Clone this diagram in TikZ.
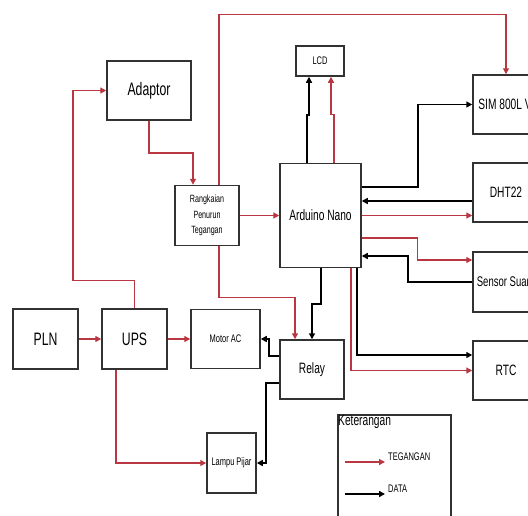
\documentclass[tikz,border=0pt]{standalone}
\usepackage{fontspec}
\setmainfont{Liberation Sans}[FakeStretch=0.68]
\usetikzlibrary{arrows.meta}
\definecolor{tegred}{RGB}{185,55,65}
\definecolor{boxgray}{RGB}{50,50,50}

\begin{document}
\begin{tikzpicture}[x=1pt,y=-1pt,>={Triangle[length=6pt,width=6pt]},
  blok/.style={draw=boxgray,line width=1.5pt,inner sep=0pt,align=center},
  besar/.style={font=\fontsize{18}{20}\selectfont},
  sedang/.style={font=\fontsize{15}{17}\selectfont},
  kecil/.style={font=\fontsize{11}{13}\selectfont},
  teg/.style={->,draw=tegred,line width=1.3pt},
  dat/.style={->,draw=black,line width=1.6pt}]
  \useasboundingbox (0,0) rectangle (528,515);
  \clip (0,0) rectangle (528,515);
  \node[blok,besar,minimum width=65,minimum height=60] (PLN) at (45.5,339) {PLN};
  \node[blok,besar,minimum width=65,minimum height=60] (UPS) at (134.5,339) {UPS};
  \node[blok,besar,minimum width=84,minimum height=59] (Adaptor) at (149,90.5) {Adaptor};
  \node[blok,minimum width=64,minimum height=60,font=\fontsize{10.5}{15.5}\selectfont] (Rang) at (207,215.5) {Rangkaian\\Penurun\\Tegangan};
  \node[blok,kecil,minimum width=69,minimum height=59] (Motor) at (225.5,339) {Motor AC};
  \node[blok,kecil,minimum width=49,minimum height=60] (Lampu) at (231.5,463) {Lampu Pijar};
  \node[blok,kecil,minimum width=48,minimum height=30] (LCD) at (320,61) {LCD};
  \node[blok,sedang,minimum width=81,minimum height=104] (Ard) at (320.5,215.5) {Arduino Nano};
  \node[blok,sedang,minimum width=64,minimum height=59] (Relay) at (312,369.5) {Relay};
  \node[blok,sedang,minimum width=66,minimum height=59] (SIM) at (506,104.5) {SIM 800L V.};
  \node[blok,sedang,minimum width=66,minimum height=59] (DHT) at (506,192.5) {DHT22};
  \node[blok,minimum width=66,minimum height=60,font=\fontsize{14}{16}\selectfont] (Sensor) at (506,282) {Sensor Suara};
  \node[blok,sedang,minimum width=66,minimum height=59] (RTC) at (506,370.5) {RTC};

  \draw[teg] (PLN) -- (UPS);
  \draw[teg] (UPS) -- (Motor);
  \draw[teg] (UPS.north) -- ++(0,-28) -| (73,90.5) -- (Adaptor.west);
  \draw[teg] (Adaptor.south) -- (149,153) -| ([xshift=-14pt]Rang.north);
  \draw[teg] ([xshift=12pt]Rang.north) -- ++(0,-170) -| (SIM.north);
  \draw[teg] (Rang.east) -- (Rang.east -| Ard.west);
  \draw[teg] ([xshift=12pt]Rang.south) -- ++(0,51) -| ([xshift=-17pt]Relay.north);
  \draw[teg] ([xshift=-18.5pt]UPS.south) |- (Lampu.west);
  \draw[dat] ([xshift=-13.5pt]Ard.north) -- ++(0,-48) -| ([xshift=-11pt]LCD.south);
  \draw[teg] ([xshift=13.5pt]Ard.north) -- ++(0,-48) -| ([xshift=11pt]LCD.south);
  \draw[dat] ([yshift=28.5pt]Ard.east) -- ++(56,0) |- (SIM.west);
  \draw[dat] ([yshift=-8.5pt]DHT.west) -- ([yshift=-8.5pt]DHT.west -| Ard.east);
  \draw[teg] (Ard.east) -- (Ard.east -| DHT.west);
  \draw[teg] ([yshift=-22.5pt]Ard.east) -- ++(56,0) |- ([yshift=22pt]Sensor.west);
  \draw[dat] (Sensor.west) -- ++(-64,0) |- ([yshift=-40.5pt]Ard.east);
  \draw[dat] ([xshift=0.5pt]Ard.south) -- ++(0,36) -| (Relay.north);
  \draw[dat] ([xshift=36.5pt]Ard.south) |- ([yshift=15.5pt]RTC.west);
  \draw[teg] ([xshift=30.5pt]Ard.south) |- (RTC.west);
  \draw[dat] ([yshift=13.5pt]Relay.west) -- ++(-10,0) |- (Motor.east);
  \draw[dat] ([yshift=-13.5pt]Relay.west) -- ++(-13,0) |- (Lampu.east);

  \node[draw=boxgray,line width=1.5pt,minimum width=113,minimum height=125,anchor=north west] (Ket) at (337,414) {};
  \node[sedang,anchor=north west,inner sep=1pt] (KetJudul) at (Ket.north west) {Keterangan};
  \coordinate (tegA) at (345,462);
  \coordinate (datA) at (345,494);
  \node[kecil,anchor=west,inner sep=1pt] (tegL) at (387,457) {TEGANGAN};
  \node[kecil,anchor=west,inner sep=1pt] (datL) at (387,489) {DATA};
  \draw[teg] (tegA) -- ++(40,0);
  \draw[dat] (datA) -- ++(40,0);
\end{tikzpicture}
\end{document}
